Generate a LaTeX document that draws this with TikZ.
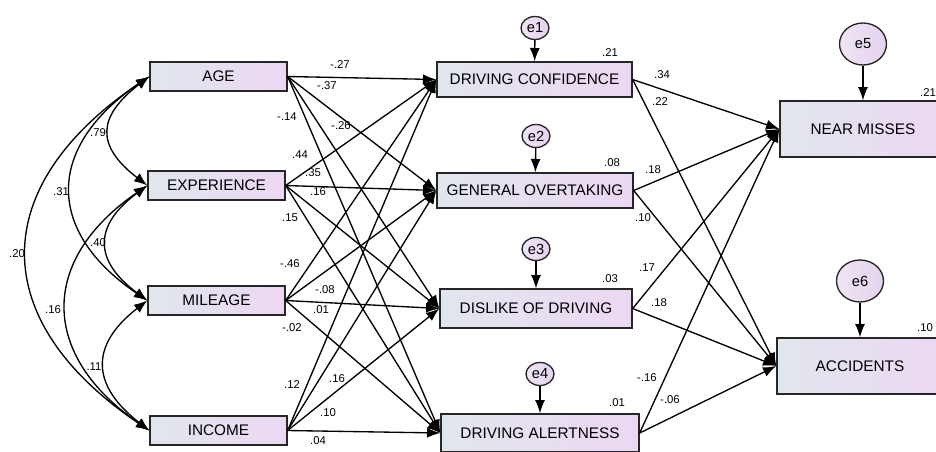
\documentclass[tikz,border=0pt]{standalone}
\usepackage{fontspec}
\setmainfont{Liberation Sans}
\usetikzlibrary{arrows.meta,shapes.geometric}

\definecolor{boxleft}{RGB}{225,230,237}
\definecolor{boxright}{RGB}{236,215,243}
\definecolor{errleft}{RGB}{238,230,244}
\definecolor{errright}{RGB}{228,210,238}

\tikzset{every picture/.style={line width=0.75pt}}
\tikzset{
	var/.style={draw=black!85, line width=1pt, left color=boxleft, right color=boxright, inner sep=0pt, font=\fontsize{11.5}{13}\selectfont},
	exo/.style={var, minimum width=102.75pt, minimum height=21.75pt},
	err/.style={ellipse, draw=black!85, line width=1pt, left color=errleft, right color=errright, inner sep=0pt, font=\fontsize{11}{13}\selectfont},
	smallerr/.style={err, minimum width=21pt, minimum height=17.25pt},
	bigerr/.style={err, minimum width=35.25pt, minimum height=31.5pt},
	effect/.style={line width=1pt, -{Latex[length=10pt,width=7.5pt]}},
	cov/.style={line width=1pt, {Latex[length=10pt,width=7.5pt]}-{Latex[length=10pt,width=7.5pt]}},
	coef/.style={inner sep=0.75pt, font=\fontsize{8.5}{10}\selectfont},
}

\begin{document}
\begin{tikzpicture}[x=0.75pt,y=0.75pt,yscale=-1,xscale=1]
	\clip (0,0) rectangle (936,451);

	%Observed variables, left column
	\node[exo] (age) at (218.5,76.5) {AGE};
	\node[exo] (exp) at (216.5,185.5) {EXPERIENCE};
	\node[exo] (mil) at (216.5,300.5) {MILEAGE};
	\node[exo] (inc) at (218.5,430.5) {INCOME};

	%Mediators
	\node[var, minimum width=146.25pt, minimum height=26.25pt] (dc) at (534.5,79.5) {DRIVING CONFIDENCE};
	\node[var, minimum width=147pt, minimum height=26.25pt] (go) at (535,190.5) {GENERAL OVERTAKING};
	\node[var, minimum width=144pt, minimum height=29.25pt] (dis) at (536,308.5) {DISLIKE OF DRIVING};
	\node[var, minimum width=148.5pt, minimum height=28.5pt] (da) at (540,433) {DRIVING ALERTNESS};

	%Outcomes
	\node[var, minimum width=124.5pt, minimum height=42pt] (nm) at (863,129) {NEAR MISSES};
	\node[var, minimum width=124.5pt, minimum height=42pt] (acc) at (860,366) {ACCIDENTS};

	%Error terms
	\node[smallerr] (e1) at (535,28) {e1};
	\node[smallerr] (e2) at (536,136) {e2};
	\node[smallerr] (e3) at (536,249) {e3};
	\node[smallerr] (e4) at (540,374) {e4};
	\node[bigerr] (e5) at (863,44) {e5};
	\node[bigerr] (e6) at (860,281) {e6};

	\draw[effect] (e1) -- (dc);
	\draw[effect] (e2) -- (go);
	\draw[effect] (e3) -- (dis);
	\draw[effect] (e4) -- (da);
	\draw[effect] (e5) -- (nm);
	\draw[effect] (e6) -- (acc);

	%Covariances
	\draw[cov] (age.west) .. controls +(-52,40) and +(-52,-40) .. (exp.west);
	\draw[cov] (age.west) .. controls +(-103,70) and +(-103,-70) .. (mil.west);
	\draw[cov] (age.west) .. controls +(-163,110) and +(-163,-110) .. (inc.west);
	\draw[cov] (exp.west) .. controls +(-54,40) and +(-54,-40) .. (mil.west);
	\draw[cov] (exp.west) .. controls +(-109,75) and +(-109,-75) .. (inc.west);
	\draw[cov] (mil.west) .. controls +(-58,45) and +(-58,-45) .. (inc.west);

	%Straight Lines, left block
	\draw[effect] (age.east) -- (dc.west);
	\draw[effect] (age.east) -- (go.west);
	\draw[effect] (age.east) -- (dis.west);
	\draw[effect] (age.east) -- (da.west);
	\draw[effect] (exp.east) -- (dc.west);
	\draw[effect] (exp.east) -- (go.west);
	\draw[effect] (exp.east) -- (dis.west);
	\draw[effect] (exp.east) -- (da.west);
	\draw[effect] (mil.east) -- (dc.west);
	\draw[effect] (mil.east) -- (go.west);
	\draw[effect] (mil.east) -- (dis.west);
	\draw[effect] (mil.east) -- (da.west);
	\draw[effect] (inc.east) -- (dc.west);
	\draw[effect] (inc.east) -- (go.west);
	\draw[effect] (inc.east) -- (dis.west);
	\draw[effect] (inc.east) -- (da.west);

	%Straight Lines, right block
	\draw[effect] (dc.east) -- (nm.west);
	\draw[effect] (dc.east) -- (acc.west);
	\draw[effect] (go.east) -- (nm.west);
	\draw[effect] (go.east) -- (acc.west);
	\draw[effect] (dis.east) -- (nm.west);
	\draw[effect] (dis.east) -- (acc.west);
	\draw[effect] (da.east) -- (nm.west);
	\draw[effect] (da.east) -- (acc.west);

	% Text Node -- covariances
	\node[coef] (r79) at (98,133) {.79};
	\node[coef] (r31) at (61,192) {.31};
	\node[coef] (r40) at (98,243) {.40};
	\node[coef] (r20) at (17,254) {.20};
	\node[coef] (r16) at (53,310) {.16};
	\node[coef] (r11) at (94,367) {.11};

	% Text Node -- left weights
	\node[coef] (wAgeDc) at (340,65) {-.27};
	\node[coef] (wAgeGo) at (327,86) {-.37};
	\node[coef] (wAgeDa) at (287,117) {-.14};
	\node[coef] (wAgeDis) at (341,126) {-.26};
	\node[coef] (wExpDc) at (300,155) {.44};
	\node[coef] (wExpGo) at (313,173) {.35};
	\node[coef] (wExpDis) at (318,192) {.16};
	\node[coef] (wExpDa) at (290,218) {.15};
	\node[coef] (wMilDc) at (290,264) {-.46};
	\node[coef] (wMilDis) at (325,290) {-.08};
	\node[coef] (wMilGo) at (321,310) {.01};
	\node[coef] (wMilDa) at (292,328) {-.02};
	\node[coef] (wIncDc) at (292,385) {.12};
	\node[coef] (wIncDis) at (337,379) {.16};
	\node[coef] (wIncGo) at (328,413) {.10};
	\node[coef] (wIncDa) at (318,441) {.04};

	% Text Node -- right weights
	\node[coef] (wDcNm) at (662,75) {.34};
	\node[coef] (wDcAcc) at (660,102) {.22};
	\node[coef] (wGoNm) at (653,170) {.18};
	\node[coef] (wGoAcc) at (643,218) {.10};
	\node[coef] (wDisNm) at (647,268) {.17};
	\node[coef] (wDisAcc) at (659,303) {.18};
	\node[coef] (wDaNm) at (647,378) {-.16};
	\node[coef] (wDaAcc) at (670,400) {-.06};

	% Text Node -- squared multiple correlations
	\node[coef] (sDc) at (610,53) {.21};
	\node[coef] (sGo) at (612,163) {.08};
	\node[coef] (sDis) at (610,279) {.03};
	\node[coef] (sDa) at (617,403) {.01};
	\node[coef] (sNm) at (928,93) {.21};
	\node[coef] (sAcc) at (925,328) {.10};

\end{tikzpicture}
\end{document}
